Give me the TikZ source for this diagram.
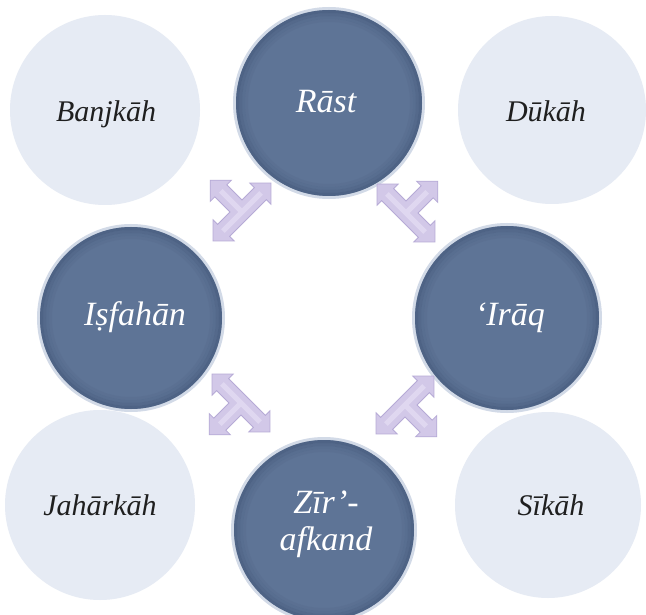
\documentclass[tikz,border=0pt]{standalone}
\usepackage{fontspec}
\setmainfont{Liberation Serif}
\begin{document}
\begin{tikzpicture}[x=1pt,y=1pt,
  darkc/.style={fill=darkfill},
  lightc/.style={fill=lightfill},
  darktext/.style={text=white,font=\fontsize{34}{38}\selectfont\itshape,inner sep=0pt,anchor=base},
  lighttext/.style={text=black!88,font=\fontsize{30}{34}\selectfont\itshape,inner sep=0pt,anchor=base},
  tarrowstyle/.style={fill=arrowfill,draw=arrowedge,line width=0.8pt,line join=miter},
  pics/tarrow/.style={code={
    \path[tarrowstyle] (41,0) -- (26,15) -- (26,8.5) -- (8.5,8.5) -- (8.5,30) -- (15,30) -- (0,45)
      -- (-15,30) -- (-8.5,30) -- (-8.5,8.5) -- (-26,8.5) -- (-26,15) -- (-41,0) -- (-26,-15)
      -- (-26,-8.5) -- (26,-8.5) -- (26,-15) -- cycle;
    \path[draw=arrowlight,line width=5pt,opacity=0.6] (-27,0) -- (27,0) (0,0) -- (0,30);
  }}]
\definecolor{darkfill}{RGB}{94,116,150}
\definecolor{darkedge}{RGB}{66,86,120}
\definecolor{halo}{RGB}{210,218,231}
\definecolor{lightfill}{RGB}{230,235,244}
\definecolor{arrowfill}{RGB}{210,200,232}
\definecolor{arrowlight}{RGB}{232,226,246}
\definecolor{arrowedge}{RGB}{182,170,214}
\useasboundingbox (0,0) rectangle (646,-615);
\fill[white] (0,0) rectangle (646,-615);

% light circles
\fill[lightc] (105,-110) circle (95);
\fill[lightc] (552,-110) circle (94);
\fill[lightc] (100,-505) circle (95);
\fill[lightc] (548,-505) circle (93);

% dark circles
\foreach \cx/\cy/\r in {329/-103/93, 131/-318/91, 507/-318/92, 324/-530/90}{
  \draw[halo,line width=4pt] (\cx,\cy) circle (\r+1);
  \fill[darkc] (\cx,\cy) circle (\r);
  \draw[darkedge,line width=3pt,opacity=0.55] (\cx,\cy) circle (\r-1.5);
  \draw[darkedge,line width=3pt,opacity=0.35] (\cx,\cy) circle (\r-4.5);
  \draw[darkedge,line width=3pt,opacity=0.2] (\cx,\cy) circle (\r-7.5);
  \draw[darkedge,line width=3pt,opacity=0.1] (\cx,\cy) circle (\r-10.5);
}

% arrows
\pic at (242,-212) [rotate=45] {tarrow};
\pic at (406,-213) [rotate=-45] {tarrow};
\pic at (241,-403) [rotate=135] {tarrow};
\pic at (405,-405) [rotate=-135] {tarrow};

% texts
\node[darktext] (rast) at (326,-113) {Rāst};
\node[darktext] (isfahan) at (135,-325) {Iṣfahān};
\node[darktext] (iraq) at (510,-325) {‘Irāq};
\node[darktext] (zir) at (326,-513) {Zīr’-};
\node[darktext] (afkand) at (326,-550) {afkand};
\node[lighttext] (banjkah) at (106,-122) {Banjkāh};
\node[lighttext] (dukah) at (546,-122) {Dūkāh};
\node[lighttext] (jaharkah) at (100,-515) {Jahārkāh};
\node[lighttext] (sikah) at (551,-515) {Sīkāh};
\end{tikzpicture}
\end{document}
